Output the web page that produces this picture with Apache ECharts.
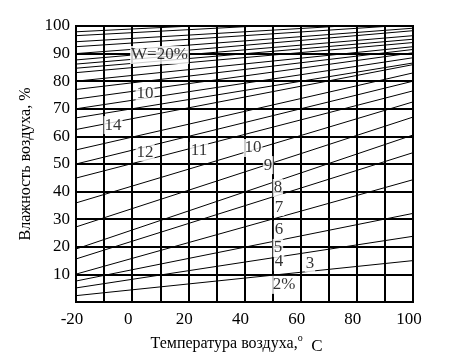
<!DOCTYPE html>
<html><head><meta charset="utf-8">
<script src="https://cdn.jsdelivr.net/npm/echarts@6/dist/echarts.min.js"></script>
<style>html,body{margin:0;padding:0;background:#fff;} #c{width:463px;height:358px;}</style>
</head><body><div id="c"></div>
<script>
// Relative humidity (%) of each equilibrium-moisture line at -20 °C and at 100 °C
const tempStart = -20;
const tempEnd = 100;
const humAtStart = [2.3, 5.1, 7.6, 10.1, 15.6, 19.2, 27.2, 35.9, 44.9, 50, 55.1, 62.5, 66.7, 70, 73.5, 77, 80, 83.1, 84.7, 86.2, 87.7, 90, 92.5, 94.3, 96.5, 97.9];
const humAtEnd   = [15.0, 23.8, 32.1, 44.3, 54.1, 60.5, 67, 72.5, 76.5, 80, 83, 86, 86.6, 88.5, 90.3, 91.5, 92.5, 94, 95.2, 96.5, 98.3, 99.2, 100.5, 101.5, 103, 104];
// Line labels
const labelTexts = ['W=20%', '10', '14', '12', '11', '10', '9', '8', '7', '6', '5', '4', '3', '2%'];
const labelTemps = [9.7, 4.6, -6.8, 4.6, 23.8, 43.0, 48.4, 51.9, 52.3, 52.3, 51.9, 52.3, 63.3, 54.1];
const labelHums  = [89.5, 75.4, 64.1, 54.3, 54.7, 55.8, 49.6, 41.3, 34.4, 26.1, 19.6, 14.5, 14.1, 6.2];

const FONT = 'Liberation Serif';
const chart = echarts.init(document.getElementById('c'), null, {renderer: 'canvas'});
const series = humAtStart.map((h, i) => ({
  type: 'line', silent: true, symbol: 'none', clip: true, animation: false,
  lineStyle: {color: '#000', width: 1},
  data: [[tempStart, h], [tempEnd, humAtEnd[i]]]
}));
series.push({
  type: 'scatter', symbolSize: 0, silent: true, animation: false, z: 10,
  data: labelTexts.map((t, i) => [labelTemps[i], labelHums[i], t]),
  label: {show: true, position: 'inside', formatter: p => p.data[2], color: '#000',
    fontFamily: FONT, fontSize: 17, backgroundColor: '#fff', padding: [1, 1, 0, 1]}
});
chart.setOption({
  animation: false,
  backgroundColor: '#fff',
  grid: {left: 76, right: 50, top: 26, bottom: 56, containLabel: false, outerBoundsMode: 'none',
    show: true, borderColor: '#000', borderWidth: 2, backgroundColor: 'transparent'},
  xAxis: {
    type: 'value', min: tempStart, max: tempEnd, interval: 10,
    axisLine: {show: true, lineStyle: {color: '#000', width: 2}},
    axisTick: {show: false},
    splitLine: {show: true, lineStyle: {color: '#000', width: 2}},
    axisLabel: {formatter: v => (v % 20 === 0 ? String(v) : ''), color: '#000', fontFamily: FONT, fontSize: 17, margin: 9, padding: [0, 8, 0, 0]},
    name: '{a|Температура воздуха,}{b|o}{c|  C}',
    nameLocation: 'middle', nameGap: 30,
    nameTextStyle: {padding: [0, 16, 0, 0], rich: {
      a: {fontFamily: FONT, fontSize: 16, color: '#000'},
      b: {fontFamily: FONT, fontSize: 10, color: '#000', verticalAlign: 'top', padding: [0, 0, 8, 0]},
      c: {fontFamily: FONT, fontSize: 17, color: '#000', padding: [5, 0, 0, 0]}
    }}
  },
  yAxis: {
    type: 'value', min: 0, max: 100, interval: 10,
    axisLine: {show: true, lineStyle: {color: '#000', width: 2}},
    axisTick: {show: false},
    splitLine: {show: true, lineStyle: {color: '#000', width: 2}},
    axisLabel: {formatter: v => (v === 0 ? '' : String(v)), color: '#000', fontFamily: FONT, fontSize: 17, margin: 6},
    name: 'Влажность воздуха, %', nameLocation: 'middle', nameGap: 42,
    nameTextStyle: {fontFamily: FONT, fontSize: 16, color: '#000'}
  },
  series: series
});
</script>
</body></html>
